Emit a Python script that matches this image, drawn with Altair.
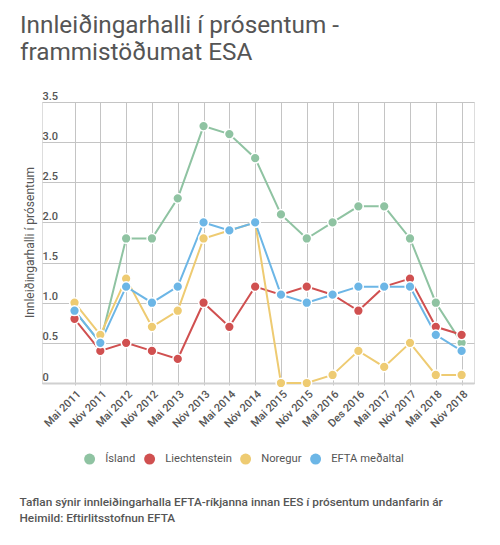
import altair as alt
import pandas as pd

categories = ["Mai 2011", "Nóv 2011", "Mai 2012", "Nóv 2012", "Mai 2013", "Nóv 2013",
              "Mai 2014", "Nóv 2014", "Mai 2015", "Nóv 2015", "Mai 2016", "Des 2016",
              "Mai 2017", "Nóv 2017", "Mai 2018", "Nóv 2018"]
island = [0.9, 0.5, 1.8, 1.8, 2.3, 3.2, 3.1, 2.8, 2.1, 1.8, 2.0, 2.2, 2.2, 1.8, 1.0, 0.5]
liechtenstein = [0.8, 0.4, 0.5, 0.4, 0.3, 1.0, 0.7, 1.2, 1.1, 1.2, 1.1, 0.9, 1.2, 1.3, 0.7, 0.6]
noregur = [1.0, 0.6, 1.3, 0.7, 0.9, 1.8, 1.9, 2.0, 0.0, 0.0, 0.1, 0.4, 0.2, 0.5, 0.1, 0.1]
efta = [0.9, 0.5, 1.2, 1.0, 1.2, 2.0, 1.9, 2.0, 1.1, 1.0, 1.1, 1.2, 1.2, 1.2, 0.6, 0.4]

series_names = ["Ísland", "Liechtenstein", "Noregur", "EFTA meðaltal"]
series_values = [island, liechtenstein, noregur, efta]
colors = ["#8fc3a2", "#d05050", "#eecb72", "#6cb6e6"]

title_lines = ["Innleiðingarhalli í prósentum -", "frammistöðumat ESA"]
y_title = "Innleiðingarhalli í prósentum"
footer_lines = ["Taflan sýnir innleiðingarhalla EFTA-ríkjanna innan EES í prósentum undanfarin ár",
                "Heimild: Eftirlitsstofnun EFTA"]

rows = []
for s_i, (name, vals) in enumerate(zip(series_names, series_values)):
    for i, v in enumerate(vals):
        rows.append({"idx": i, "cat": categories[i], "series": name, "value": v, "ord": s_i})
df = pd.DataFrame(rows)

label_expr = "[" + ",".join("'" + c + "'" for c in categories) + "][datum.value]"

x = alt.X("idx:Q",
          scale=alt.Scale(domain=[-1.26, 15.48], nice=False, zero=False),
          axis=alt.Axis(values=list(range(len(categories))), labelExpr=label_expr,
                        labelAngle=-45, labelFontSize=11, labelColor="#555",
                        labelFont="Roboto", labelFontWeight=500, labelPadding=3,
                        labelOverlap=False, labelFlush=False,
                        grid=True, gridColor="#c4c4c4", gridWidth=1,
                        ticks=True, tickSize=2, tickColor="#c4c4c4",
                        domain=True, domainColor="#d0d0d0", domainWidth=2,
                        title=footer_lines, titleAnchor="start", titleAlign="left",
                        titleX=-23, titleY=113, titleBaseline="top",
                        titleFont="Roboto", titleFontSize=11.8, titleFontWeight=500,
                        titleColor="#555", titleLineHeight=16))

y = alt.Y("value:Q",
          scale=alt.Scale(domain=[0, 3.5], nice=False),
          axis=alt.Axis(values=[0, 0.5, 1, 1.5, 2, 2.5, 3, 3.5],
                        labelExpr="datum.value == 0 ? '0' : format(datum.value, '.1f')",
                        labelAlign="left", labelBaseline="bottom", labelPadding=0,
                        labelOffset=-1, labelFlush=False, labelOverlap=False,
                        labelFontSize=11, labelColor="#555", labelFont="Roboto",
                        labelFontWeight=500,
                        ticks=False, domain=False,
                        grid=True, gridColor="#c4c4c4", gridWidth=1,
                        title=y_title, titleX=-9, titleY=140, titleAngle=-90,
                        titleAlign="center", titleBaseline="alphabetic",
                        titleFont="Roboto", titleFontSize=12, titleFontWeight="normal",
                        titleColor="#555"))

color = alt.Color("series:N",
                  scale=alt.Scale(domain=series_names, range=colors),
                  legend=alt.Legend(orient="none", legendX=42, legendY=351,
                                    direction="horizontal", title=None,
                                    symbolType="circle", symbolSize=120,
                                    symbolStrokeWidth=0, labelFontSize=11.2,
                                    labelColor="#555", labelFont="Roboto",
                                    labelOffset=10, columnPadding=8))

base = alt.Chart(df)
lines = base.mark_line(strokeWidth=2).encode(x=x, y=y, color=color, detail="series:N",
                                             order="idx:Q")
points = base.mark_point(filled=True, size=95, opacity=1, stroke="white",
                         strokeWidth=1.5).encode(
    x=x, y=y, fill=alt.Fill("series:N", scale=alt.Scale(domain=series_names, range=colors),
                            legend=None),
    order="ord:Q")

chart = alt.layer(lines, points).properties(
    width=432, height=281,
    title=alt.TitleParams(text=title_lines, anchor="start", frame="group", dx=-22,
                          fontSize=24.3, font="Roboto", fontWeight="normal", color="#555",
                          lineHeight=27, offset=25),
    autosize=alt.AutoSizeParams(type="none"),
    padding={"left": 34, "top": 94, "right": 18, "bottom": 150},
).configure_view(stroke=None).configure(background="white")

chart.save("out.html", embed_options={"renderer": "svg", "actions": False})
